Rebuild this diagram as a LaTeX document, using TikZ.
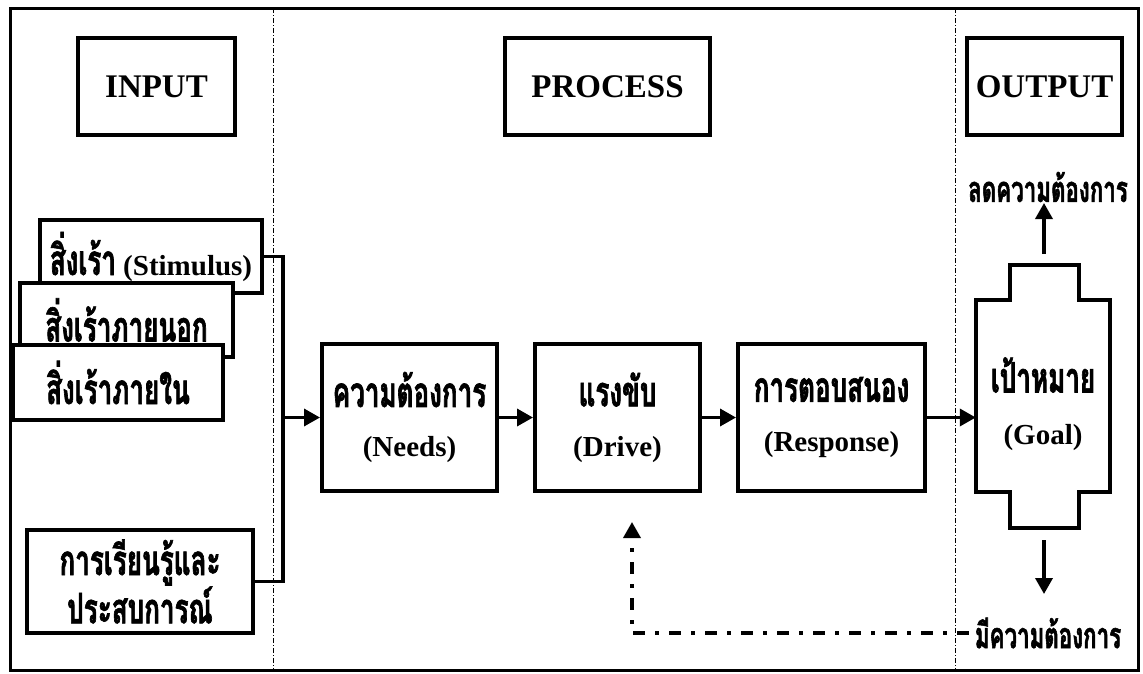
\documentclass[tikz,border=0pt]{standalone}
\usepackage{fontspec}
\setmainfont{Liberation Serif}
\newfontfamily\thaifont[Script=Thai,FakeStretch=0.62,BoldFeatures={FakeBold=1.5}]{Loma}
\usetikzlibrary{arrows.meta}
\newcommand{\thtxt}[1]{{\thaifont\bfseries\fontsize{42}{50}\selectfont #1}}
\newcommand{\entxt}[1]{{\bfseries\fontsize{29}{50}\selectfont #1}}
\newcommand{\hdtxt}[1]{{\fontsize{33}{40}\selectfont\bfseries #1}}
\begin{document}
\begin{tikzpicture}[x=1pt,y=-1pt,
  box/.style={draw, line width=4pt, fill=white, inner sep=0pt, align=center, font=\fontsize{29}{50}\selectfont},
  arr/.style={line width=3.5pt, -{Triangle[length=16pt,width=17pt]}},
  conn/.style={line width=3.5pt},
  sepline/.style={line width=0.8pt, dash pattern=on 5pt off 2pt on 1pt off 2pt},
  fb/.style={line width=3.5pt, dash pattern=on 12pt off 10pt on 4pt off 10pt},
  lbl/.style={inner sep=3pt, align=center}]
\useasboundingbox (0,0) rectangle (1143,673);
\node[draw, line width=3pt, minimum width=1128pt, minimum height=662pt, inner sep=0pt] (frame) at (574,339) {};
\draw[sepline] (273,8) -- (273,670);
\draw[sepline] (955,8) -- (955,670);
% headers
\node[box, minimum width=157pt, minimum height=97pt] (in) at (156.5,86.5) {\hdtxt{INPUT}};
\node[box, minimum width=205pt, minimum height=97pt] (pr) at (607.5,86.5) {\hdtxt{PROCESS}};
\node[box, minimum width=155pt, minimum height=97pt] (out) at (1044.5,86.5) {\hdtxt{OUTPUT}};
% stimulus stack
\node[box, minimum width=222pt, minimum height=73pt] (s1) at (151,256.5) {\thtxt{สิ่งเร้า} \entxt{(Stimulus)}};
\node[box, minimum width=213pt, minimum height=74pt] (s2) at (126.5,320) {\thtxt{สิ่งเร้าภายนอก}};
\node[box, minimum width=210pt, minimum height=75pt] (s3) at (118,382.5) {\thtxt{สิ่งเร้าภายใน}};
\node[box, minimum width=226pt, minimum height=103pt, font=\fontsize{29}{47}\selectfont] (learn) at (140,581.5) {\thtxt{การเรียนรู้และ}\\\thtxt{ประสบการณ์}};
% process boxes
\node[box, minimum width=175pt, minimum height=147pt] (needs) at (409.5,417.5) {\thtxt{ความต้องการ}\\\entxt{(Needs)}};
\node[box, minimum width=165pt, minimum height=147pt] (drive) at (617.5,417.5) {\thtxt{แรงขับ}\\\entxt{(Drive)}};
\node[box, minimum width=187pt, minimum height=147pt] (resp) at (831.5,417.5) {\thtxt{การตอบสนอง}\\\entxt{(Response)}};
% goal
\draw[line width=4pt, fill=white] (976,300) -- (1010,300) -- (1010,265) -- (1079,265) -- (1079,300) -- (1110,300) -- (1110,492) -- (1079,492) -- (1079,528) -- (1010,528) -- (1010,492) -- (976,492) -- cycle;
\node[lbl, minimum width=134pt, inner sep=0pt, font=\fontsize{29}{52}\selectfont] (goal) at (1043,404) {\thtxt{เป้าหมาย}\\\entxt{(Goal)}};
% output labels
\node[lbl] (reduce) at (1048,187) {\thaifont\bfseries\fontsize{36}{40}\selectfont ลดความต้องการ};
\node[lbl, inner sep=6pt] (need) at (1048,633) {\thaifont\bfseries\fontsize{36}{40}\selectfont มีความต้องการ};
% connectors
\coordinate (cA) at (283,256.5);
\draw[conn] (s1.east) -- (cA) |- (learn.east);
\draw[arr] (cA |- needs.west) -- (needs.west);
\draw[arr] (needs) -- (drive);
\draw[arr] (drive) -- (resp);
\draw[arr] (resp.east) -- (resp.east -| goal.west);
\coordinate (upS) at (1044,254);
\coordinate (upE) at (1044,203);
\draw[arr] (upS) -- (upE);
\coordinate (dnS) at (1044,540);
\coordinate (dnE) at (1044,594);
\draw[arr] (dnS) -- (dnE);
\coordinate (fbT) at (632,522);
\draw[fb, -{Triangle[length=16pt,width=17pt]}] (need.west) -| (fbT);
\end{tikzpicture}
\end{document}
